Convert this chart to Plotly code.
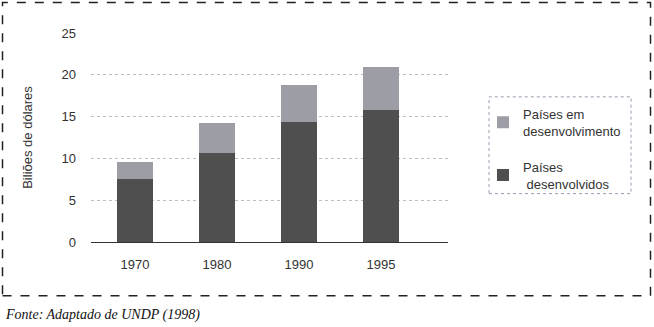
import plotly.graph_objects as go

years = ["1970", "1980", "1990", "1995"]
desenvolvidos = [7.5, 10.6, 14.4, 15.8]
em_desenvolvimento = [2.1, 3.6, 4.4, 5.1]
y_ticks = [0, 5, 10, 15, 20, 25]

W, H = 654, 327
L, R, T, B = 91, 448, 33, 242.5

def px(x):
    return (x - L) / (R - L)

def py(y):
    return (B - y) / (B - T)

fig = go.Figure()
fig.add_trace(go.Bar(
    x=years, y=desenvolvidos, name="Países<br> desenvolvidos", legendgroup="dev", legendrank=2,
    marker=dict(color="#4f4f4f", line=dict(width=0)), width=0.44,
))
fig.add_trace(go.Bar(
    x=years, y=em_desenvolvimento, name="Países em<br>desenvolvimento", legendgroup="emdev", legendrank=1,
    marker=dict(color="#9d9da6", line=dict(width=0)), width=0.44,
))

font = dict(family="Liberation Sans, Arial", size=13, color="#333333")

fig.update_layout(
    width=W, height=H,
    barmode="stack",
    margin=dict(l=L, r=W - R, t=T, b=H - B, pad=0),
    paper_bgcolor="white", plot_bgcolor="white",
    font=font,
    showlegend=True,
    legend=dict(
        traceorder="grouped",
        x=px(483), y=py(99), xanchor="left", yanchor="top",
        bgcolor="rgba(0,0,0,0)", borderwidth=0,
        font=dict(family="Liberation Sans, Arial", size=13, color="#333333"),
        itemsizing="constant", itemwidth=30, tracegroupgap=16,
    ),
    xaxis=dict(
        type="category", range=[-0.537, 3.817],
        showgrid=False, ticks="", showline=False,
        tickfont=font, ticklabelstandoff=13,
    ),
    yaxis=dict(
        range=[0, 25], tickvals=y_ticks,
        showgrid=True, gridcolor="#bdbdbd", griddash="dot", gridwidth=1,
        zeroline=True, zerolinecolor="#333333", zerolinewidth=1,
        showline=False, ticks="", tickfont=font, ticklabelstandoff=14,
        title=dict(text="Biliões de dólares", font=font, standoff=25),
    ),
    shapes=[
        dict(type="rect", xref="paper", yref="paper",
             x0=px(2.5), x1=px(650.5), y0=py(296.5), y1=py(2.5),
             line=dict(color="#222222", width=1.5, dash="dash")),
        dict(type="rect", xref="paper", yref="paper",
             x0=px(489), x1=px(631), y0=py(194), y1=py(97),
             line=dict(color="#9a9ab0", width=1, dash="dot")),
    ],
    annotations=[
        dict(text="<i>Fonte: Adaptado de UNDP (1998)</i>", xref="paper", yref="paper",
             x=px(3), y=py(316), xanchor="left", yanchor="middle", showarrow=False,
             font=dict(family="Liberation Serif, Times New Roman", size=14, color="#111111")),
    ],
)

fig.write_html("out.html", config={"displayModeBar": False},
               post_script="document.body.style.margin='0';document.body.style.overflow='hidden';")
